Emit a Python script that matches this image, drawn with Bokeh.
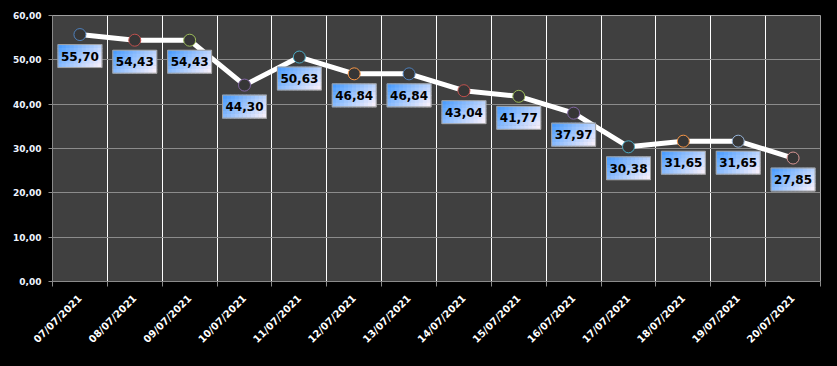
from bokeh.plotting import figure
from bokeh.models import Range1d, FixedTicker, ColumnDataSource
from bokeh.core.properties import value
from bokeh.embed import file_html
from bokeh.resources import INLINE

# ---- data ----
dates = ["07/07/2021", "08/07/2021", "09/07/2021", "10/07/2021", "11/07/2021",
         "12/07/2021", "13/07/2021", "14/07/2021", "15/07/2021", "16/07/2021",
         "17/07/2021", "18/07/2021", "19/07/2021", "20/07/2021"]
values = [55.70, 54.43, 54.43, 44.30, 50.63, 46.84, 46.84, 43.04, 41.77, 37.97,
          30.38, 31.65, 31.65, 27.85]
y_ticks = [0, 10, 20, 30, 40, 50, 60]
y_tick_labels = ["0,00", "10,00", "20,00", "30,00", "40,00", "50,00", "60,00"]

# ---- styles ----
rim_colors = ["#4f81bd", "#c0504d", "#9bbb59", "#8064a2", "#4bacc6", "#f79646",
              "#4f81bd", "#c0504d", "#9bbb59", "#8064a2", "#4bacc6", "#f79646",
              "#95b3d7", "#d99694"]
FRAME_W, FRAME_H = 768, 266
Y_MAX = 60

n = len(dates)
idx = list(range(n))
bounds = [i - 0.5 for i in range(n + 1)]
inner_bounds = bounds[1:-1]
upp_y = Y_MAX / FRAME_H   # data units per pixel (y)
upp_x = n / FRAME_W       # data units per pixel (x)

p = figure(frame_width=FRAME_W, frame_height=FRAME_H,
           min_border_left=52, min_border_right=9, min_border_top=15, min_border_bottom=77,
           x_range=Range1d(-0.5, n - 0.5), y_range=Range1d(0, Y_MAX),
           output_backend="svg", toolbar_location=None)
p.border_fill_color = "black"
p.background_fill_color = "#404040"
p.outline_line_color = "#a0a0a0"

try:
    from bokeh.models import GlobalInlineStyleSheet
    p.stylesheets = [GlobalInlineStyleSheet(css="body { background: black; }")]
except Exception:
    pass

# grids
p.ygrid.ticker = FixedTicker(ticks=y_ticks)
p.ygrid.grid_line_color = "#8c8c8c"
p.ygrid.grid_line_width = 1
p.xgrid.ticker = FixedTicker(ticks=inner_bounds)
p.xgrid.grid_line_color = "white"
p.xgrid.grid_line_width = 1

# y axis
ya = p.yaxis[0]
ya.ticker = FixedTicker(ticks=y_ticks)
ya.major_label_overrides = {t: l for t, l in zip(y_ticks, y_tick_labels)}
ya.major_label_text_color = "#eef4ff"
ya.major_label_text_font = "DejaVu Sans"
ya.major_label_text_font_style = "bold"
ya.major_label_text_font_size = "9px"
ya.major_label_standoff = 7
ya.axis_line_color = "#8a8a8a"
ya.major_tick_line_color = "#8a8a8a"
ya.major_tick_out = 4
ya.major_tick_in = 0
ya.minor_tick_line_color = None

# x axis
xa = p.xaxis[0]
xa.ticker = FixedTicker(ticks=idx, minor_ticks=bounds)
xa.major_label_overrides = {i: d for i, d in zip(idx, dates)}
xa.major_label_orientation = 0.785398
xa.major_label_text_color = "white"
xa.major_label_text_font = "DejaVu Sans"
xa.major_label_text_font_style = "bold"
xa.major_label_text_font_size = "10px"
xa.major_label_standoff = 10
xa.axis_line_color = "#8a8a8a"
xa.major_tick_out = 0
xa.major_tick_in = 0
xa.major_tick_line_color = None
xa.minor_tick_line_color = "#8a8a8a"
xa.minor_tick_out = 5
xa.minor_tick_in = 0

# line + markers
p.line(idx, values, line_color="white", line_width=5)
p.scatter(idx, values, size=12, fill_color="#363636", line_color=rim_colors, line_width=1)

# data label boxes with diagonal gradient (blue at left/top -> pale lavender at right/bottom)
BOX_OFF, BOX_H, BOX_W = 10, 23, 44
NC, NR = 11, 6
cw, rh = BOX_W / NC, BOX_H / NR
c0 = (0x4c, 0x9e, 0xff)
c1 = (0xf4, 0xee, 0xfb)
gx, gy, gc = [], [], []
for r in range(NR):
    for c in range(NC):
        t = 0.65 * (c / (NC - 1)) + 0.35 * (r / (NR - 1))
        col = "#%02x%02x%02x" % tuple(int(round(a + (b - a) * t)) for a, b in zip(c0, c1))
        for i, v in zip(idx, values):
            gx.append(i + (-BOX_W / 2 + (c + 0.5) * cw) * upp_x)
            gy.append(v - (BOX_OFF + (r + 0.5) * rh) * upp_y)
            gc.append(col)
p.rect(x=gx, y=gy, width=cw + 0.6, height=rh + 0.6, width_units="screen",
       height_units="screen", fill_color=gc, line_color=None)
box_y = [v - (BOX_OFF + BOX_H / 2) * upp_y for v in values]
p.rect(x=idx, y=box_y, width=BOX_W, height=BOX_H, width_units="screen",
       height_units="screen", fill_color=None, line_color="#a0a0a0", line_width=1)

label_src = ColumnDataSource(dict(x=idx, y=box_y,
                                  t=[f"{v:.2f}".replace(".", ",") for v in values]))
p.text(x="x", y="y", text="t", source=label_src, text_align="center",
       text_baseline="middle", text_font=value("DejaVu Sans"), text_font_style="bold",
       text_font_size="12px", text_color="black")

open("out.html", "w").write(file_html(p, INLINE))
